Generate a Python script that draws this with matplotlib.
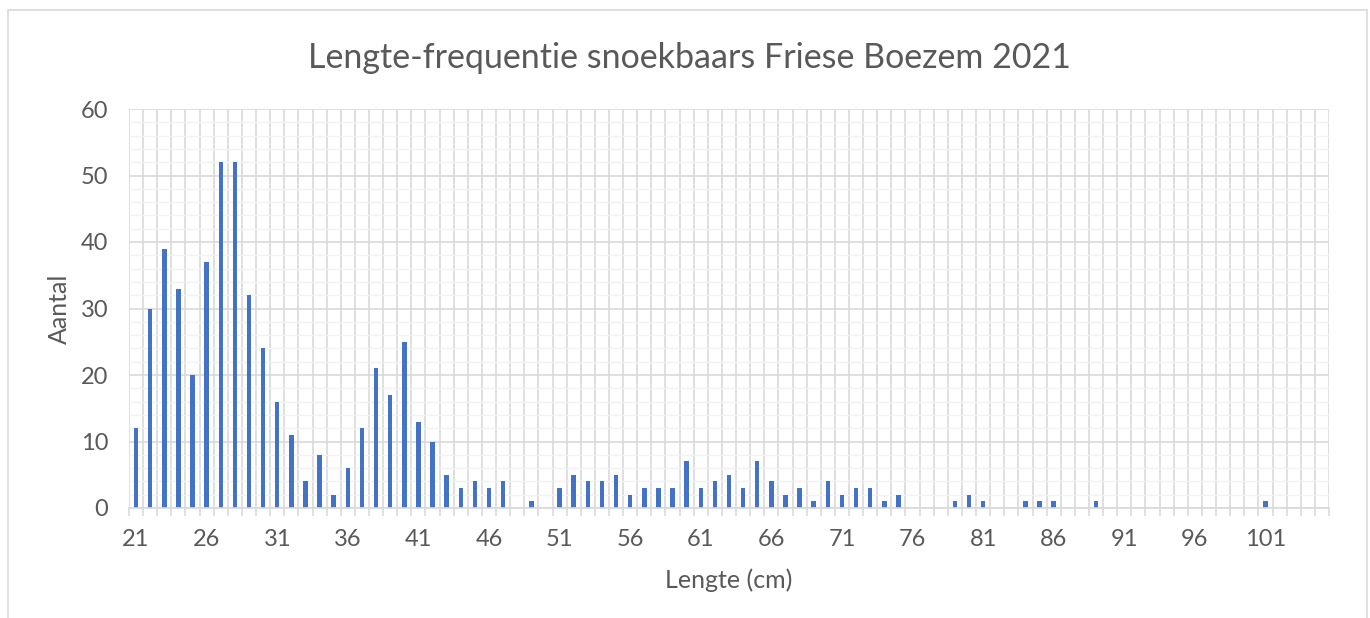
import matplotlib
matplotlib.use("Agg")
import matplotlib.pyplot as plt
import matplotlib.patches as mpatches
import numpy as np

# ── Data ──────────────────────────────────────────────────────────────────────
lengths = list(range(21, 106))
counts = [
    12, 30, 39, 33, 20, 37, 52, 52, 32, 24,   # 21-30
    16, 11, 4, 8, 2, 6, 12, 21, 17, 25,       # 31-40
    13, 10, 5, 3, 4, 3, 4, 0, 1, 0,           # 41-50
    3, 5, 4, 4, 5, 2, 3, 3, 3, 7,             # 51-60
    3, 4, 5, 3, 7, 4, 2, 3, 1, 4,             # 61-70
    2, 3, 3, 1, 2, 0, 0, 0, 1, 2,             # 71-80
    1, 0, 0, 1, 1, 1, 0, 0, 1, 0,             # 81-90
    0, 0, 0, 0, 0, 0, 0, 0, 0, 0,             # 91-100
    1, 0, 0, 0, 0,                            # 101-105
]
label_every = 5

TITLE  = "Lengte-frequentie snoekbaars Friese Boezem 2021"
XLABEL = "Lengte (cm)"
YLABEL = "Aantal"

BAR   = "#4472C4"
TEXT  = "#595959"
GRID  = "#D9D9D9"
MINOR = "#F2F2F2"

plt.rcParams["font.family"] = ["Lato", "DejaVu Sans"]

# ── Figure ────────────────────────────────────────────────────────────────────
fig = plt.figure(figsize=(13.7, 6.18), dpi=100)
fig.patch.set_facecolor("white")
fig.patches.append(mpatches.Rectangle((8 / 1370, -0.01), 1359 / 1370, 1 - 10 / 618 + 0.01,
                                      transform=fig.transFigure, fill=False,
                                      ec=GRID, lw=1.2))

ax = fig.add_axes([129 / 1370, 1 - 508 / 618, 1200 / 1370, 399 / 618])
x = np.arange(len(lengths))
ax.bar(x, counts, width=0.32, color=BAR, zorder=3)

ax.set_xlim(-0.5, len(lengths) - 0.5)
ax.set_ylim(0, 60)

# y grid: major every 10, minor every 2
ax.set_yticks(np.arange(0, 61, 10))
ax.set_yticks(np.arange(0, 61, 2), minor=True)
ax.grid(axis="y", which="minor", color=MINOR, lw=1.0, zorder=0)
ax.grid(axis="y", which="major", color=GRID, lw=1.2, zorder=1)

# x: labels every 5 categories, gridlines/ticks at category borders
ax.set_xticks(x[::label_every])
ax.set_xticklabels([str(v) for v in lengths[::label_every]])
ax.set_xticks(np.arange(-0.5, len(lengths), 1.0), minor=True)
ax.grid(axis="x", which="minor", color=GRID, lw=1.2, zorder=1)
ax.tick_params(axis="x", which="major", length=0, pad=15, labelsize=17, labelcolor=TEXT)
ax.tick_params(axis="x", which="minor", length=6, width=1.2, color=GRID)
ax.tick_params(axis="y", which="both", length=0, pad=15, labelsize=17, labelcolor=TEXT)

for s in ["top", "right", "left"]:
    ax.spines[s].set_visible(False)
ax.spines["bottom"].set_color(GRID)
ax.spines["bottom"].set_linewidth(1.2)
ax.spines["bottom"].set_zorder(4)

ax.set_xlabel(XLABEL, fontsize=18, color=TEXT)
ax.xaxis.set_label_coords(0.5, -0.152)
ax.set_ylabel(YLABEL, fontsize=18, color=TEXT)
ax.yaxis.set_label_coords(-0.048, 0.5)

fig.text(689 / 1370, 1 - 58 / 618, TITLE, ha="center", va="center",
         fontsize=24.5, color=TEXT)

fig.savefig("out.png", dpi=100, facecolor="white")
